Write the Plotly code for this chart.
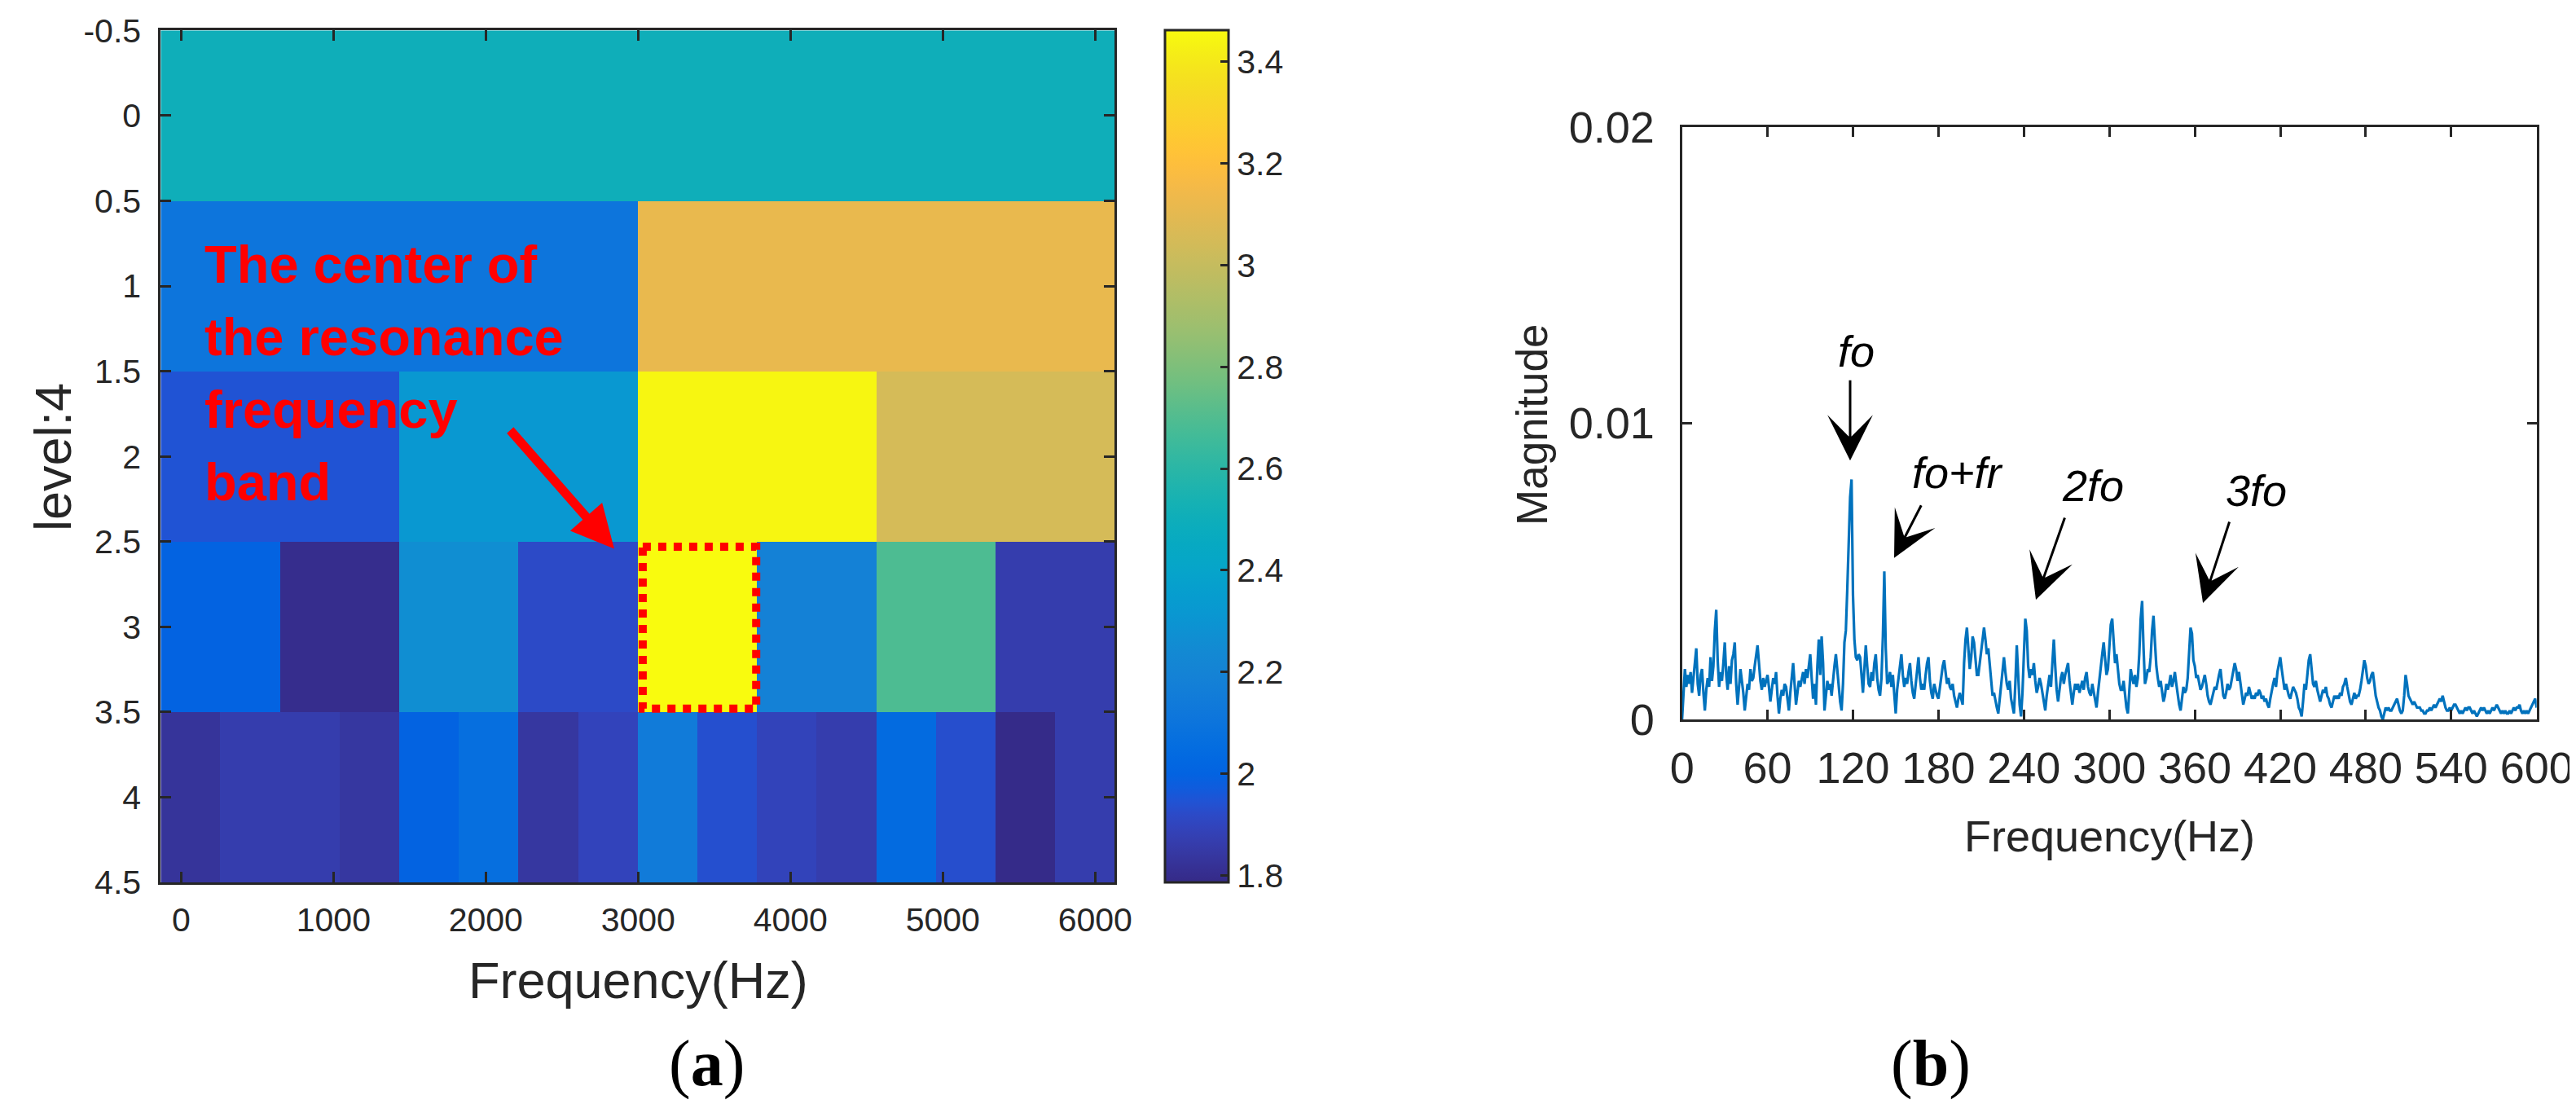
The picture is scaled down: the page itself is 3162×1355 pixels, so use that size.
import plotly.graph_objects as go

W, H = 3162, 1355

# ---------------- panel (a): kurtogram values ----------------
levels = [0, 1, 2, 3, 4]
level_tick_vals = [-0.5, 0, 0.5, 1, 1.5, 2, 2.5, 3, 3.5, 4, 4.5]
level_tick_text = ["-0.5", "0", "0.5", "1", "1.5", "2", "2.5", "3", "3.5", "4", "4.5"]
kurt_level0 = [2.504]
kurt_level1 = [2.105, 3.116]
kurt_level2 = [1.946, 2.318, 3.445, 3.050]
kurt_level3 = [1.999, 1.800, 2.265, 1.919, 3.462, 2.185, 2.691, 1.866]
kurt_level4 = [1.826, 1.866, 1.866, 1.839, 1.999, 2.066, 1.839, 1.894,
               2.145, 1.935, 1.892, 1.866, 2.040, 1.932, 1.790, 1.866]
freq_extent_a = [-134, 6127]
freq_ticks_a = [0, 1000, 2000, 3000, 4000, 5000, 6000]
cbar_range = [1.786, 3.4625]
cbar_ticks = [1.8, 2.0, 2.2, 2.4, 2.6, 2.8, 3.0, 3.2, 3.4]
cbar_text = ["1.8", "2", "2.2", "2.4", "2.6", "2.8", "3", "3.2", "3.4"]

# ---------------- panel (b): envelope spectrum values ----------------
spec_f0, spec_df = 0, 1          # Hz
mag_e4 = [  # magnitude in units of 1e-4, one value per Hz (0..600 Hz)
    0, 9, 17, 11, 15, 12, 16, 9, 14, 19,
    24, 12, 8, 15, 17, 9, 3, 10, 14, 11,
    21, 13, 18, 30, 37, 20, 11, 16, 13, 19,
    26, 15, 10, 18, 12, 20, 22, 26, 12, 5,
    11, 17, 13, 9, 3, 8, 12, 10, 17, 13,
    14, 18, 21, 25, 19, 13, 10, 14, 11, 13,
    15, 11, 6, 10, 14, 12, 16, 8, 2, 7,
    10, 8, 12, 11, 7, 3, 9, 14, 19, 12,
    5, 9, 13, 11, 14, 16, 12, 17, 14, 19,
    22, 14, 7, 12, 5, 18, 27, 15, 28, 19,
    3, 8, 13, 10, 12, 8, 14, 18, 22, 16,
    10, 6, 3, 12, 26, 30, 44, 60, 75, 81,
    42, 27, 21, 20, 22, 21, 14, 9, 17, 25,
    18, 12, 11, 16, 13, 19, 22, 14, 10, 8,
    14, 28, 50, 24, 12, 13, 16, 11, 15, 9,
    2, 10, 14, 18, 22, 15, 11, 14, 12, 16,
    19, 13, 9, 7, 12, 17, 21, 14, 10, 12,
    10, 15, 19, 21, 13, 9, 7, 12, 10, 8,
    7, 11, 15, 18, 20, 15, 12, 14, 11, 10,
    12, 8, 6, 4, 7, 9, 7, 5, 19, 27,
    31, 22, 17, 21, 28, 26, 19, 15, 15, 19,
    24, 28, 31, 27, 22, 24, 18, 12, 8, 9,
    6, 4, 2, 7, 13, 18, 21, 16, 12, 10,
    13, 7, 4, 2, 12, 25, 15, 5, 1, 9,
    22, 34, 30, 18, 14, 17, 15, 19, 13, 9,
    11, 14, 12, 9, 6, 3, 8, 12, 15, 11,
    20, 27, 18, 10, 6, 11, 14, 16, 12, 15,
    17, 19, 13, 8, 5, 9, 12, 10, 12, 9,
    11, 13, 10, 14, 16, 11, 9, 8, 12, 9,
    6, 4, 9, 14, 18, 22, 26, 19, 15, 17,
    24, 32, 34, 25, 19, 22, 16, 12, 10, 10,
    13, 8, 4, 2, 9, 17, 14, 12, 15, 11,
    14, 22, 34, 40, 24, 12, 14, 17, 16, 21,
    30, 35, 26, 18, 14, 11, 13, 9, 6, 8,
    12, 10, 12, 15, 11, 13, 16, 12, 8, 5,
    3, 7, 11, 9, 10, 14, 22, 31, 29, 20,
    18, 14, 15, 12, 10, 11, 13, 15, 12, 8,
    6, 5, 7, 9, 11, 10, 13, 15, 17, 12,
    8, 7, 9, 12, 10, 11, 14, 16, 19, 17,
    13, 16, 12, 8, 5, 7, 9, 8, 11, 9,
    7, 8, 7, 9, 8, 10, 9, 7, 8, 6,
    7, 5, 4, 7, 10, 12, 14, 11, 16, 19,
    21, 17, 13, 10, 12, 10, 8, 7, 9, 11,
    10, 9, 7, 4, 3, 1, 6, 12, 10, 15,
    20, 22, 16, 12, 11, 13, 10, 8, 6, 8,
    10, 9, 11, 8, 7, 5, 4, 6, 8, 7,
    8, 7, 9, 8, 11, 12, 14, 11, 8, 6,
    5, 7, 9, 7, 8, 8, 10, 13, 17, 20,
    18, 14, 12, 13, 15, 16, 12, 8, 6, 4,
    3, 1, 0, 2, 4, 3, 4, 3, 3, 4,
    5, 6, 7, 5, 3, 2, 3, 8, 15, 12,
    8, 7, 6, 5, 6, 5, 4, 4, 4, 3,
    3, 2, 2, 3, 3, 4, 3, 4, 5, 4,
    5, 6, 7, 6, 8, 6, 4, 3, 3, 4,
    3, 4, 5, 5, 4, 3, 2, 3, 2, 3,
    4, 3, 4, 4, 3, 2, 3, 2, 1, 2,
    3, 4, 3, 4, 3, 2, 3, 2, 3, 4,
    3, 4, 5, 4, 3, 2, 3, 2, 3, 2,
    2, 3, 2, 3, 4, 3, 4, 4, 5, 3,
    2, 3, 2, 3, 2, 3, 4, 5, 6, 7,
    4,
]
freq_ticks_b = [0, 60, 120, 180, 240, 300, 360, 420, 480, 540, 600]
mag_ticks = [0, 0.01, 0.02]
mag_tick_text = ["0", "0.01", "0.02"]
peak_labels = ["fo", "fo+fr", "2fo", "3fo"]

# ---------------- parula colormap (64 entries) ----------------
parula = [
    (0.2081, 0.1663, 0.5292), (0.2116, 0.1898, 0.5777), (0.2123, 0.2138, 0.6270), (0.2081, 0.2386, 0.6771),
    (0.1959, 0.2645, 0.7279), (0.1707, 0.2919, 0.7792), (0.1253, 0.3242, 0.8303), (0.0591, 0.3598, 0.8683),
    (0.0117, 0.3875, 0.8820), (0.0060, 0.4086, 0.8828), (0.0165, 0.4266, 0.8786), (0.0329, 0.4430, 0.8720),
    (0.0498, 0.4586, 0.8641), (0.0629, 0.4737, 0.8554), (0.0723, 0.4887, 0.8467), (0.0779, 0.5040, 0.8384),
    (0.0793, 0.5200, 0.8312), (0.0749, 0.5375, 0.8263), (0.0641, 0.5570, 0.8240), (0.0488, 0.5772, 0.8228),
    (0.0343, 0.5966, 0.8199), (0.0265, 0.6137, 0.8135), (0.0239, 0.6287, 0.8038), (0.0231, 0.6418, 0.7913),
    (0.0228, 0.6535, 0.7768), (0.0267, 0.6642, 0.7607), (0.0384, 0.6743, 0.7436), (0.0590, 0.6838, 0.7254),
    (0.0843, 0.6928, 0.7062), (0.1133, 0.7015, 0.6859), (0.1453, 0.7098, 0.6646), (0.1801, 0.7177, 0.6424),
    (0.2178, 0.7250, 0.6193), (0.2586, 0.7317, 0.5954), (0.3022, 0.7376, 0.5712), (0.3482, 0.7424, 0.5473),
    (0.3953, 0.7459, 0.5244), (0.4420, 0.7481, 0.5033), (0.4871, 0.7491, 0.4840), (0.5300, 0.7491, 0.4661),
    (0.5709, 0.7485, 0.4494), (0.6099, 0.7473, 0.4337), (0.6473, 0.7456, 0.4188), (0.6834, 0.7435, 0.4044),
    (0.7184, 0.7411, 0.3905), (0.7525, 0.7384, 0.3768), (0.7858, 0.7356, 0.3633), (0.8185, 0.7327, 0.3498),
    (0.8507, 0.7299, 0.3360), (0.8824, 0.7274, 0.3217), (0.9139, 0.7258, 0.3063), (0.9450, 0.7261, 0.2886),
    (0.9739, 0.7314, 0.2666), (0.9938, 0.7455, 0.2403), (0.9990, 0.7653, 0.2164), (0.9955, 0.7861, 0.1967),
    (0.9880, 0.8066, 0.1794), (0.9789, 0.8271, 0.1633), (0.9697, 0.8481, 0.1475), (0.9626, 0.8705, 0.1309),
    (0.9589, 0.8949, 0.1132), (0.9598, 0.9218, 0.0948), (0.9661, 0.9514, 0.0755), (0.9763, 0.9831, 0.0538),
]
parula_scale = [[i / (len(parula) - 1),
                 "rgb(%d,%d,%d)" % (round(r * 255), round(g * 255), round(b * 255))]
                for i, (r, g, b) in enumerate(parula)]

# ---------------- build heatmap grid ----------------
rows = [kurt_level0, kurt_level1, kurt_level2, kurt_level3, kurt_level4]
n_fine = len(kurt_level4)
z = [[v for v in row for _ in range(n_fine // len(row))] for row in rows]
step = (freq_extent_a[1] - freq_extent_a[0]) / n_fine
x_edges = [freq_extent_a[0] + i * step for i in range(n_fine + 1)]
y_edges = [lv - 0.5 for lv in levels] + [levels[-1] + 0.5]

spec_freq = [spec_f0 + i * spec_df for i in range(len(mag_e4))]
spec_mag = [v * 1e-4 for v in mag_e4]

AX = "#262626"
FONT = "Liberation Sans"


def px(x):
    return x / W


def py(y):
    return 1 - y / H


fig = go.Figure()
fig.add_trace(go.Heatmap(
    x=x_edges, y=y_edges, z=z, colorscale=parula_scale,
    zmin=cbar_range[0], zmax=cbar_range[1], xaxis="x", yaxis="y",
    hoverinfo="skip",
    colorbar=dict(
        x=px(1422), xanchor="left", xref="paper",
        y=py(1075), yanchor="bottom", yref="paper",
        len=(1075 - 29.3) / H, lenmode="fraction",
        thickness=78, thicknessmode="pixels", xpad=0, ypad=0,
        outlinewidth=3, outlinecolor=AX,
        tickmode="array", tickvals=cbar_ticks, ticktext=cbar_text,
        ticks="inside", ticklen=11, tickwidth=3, tickcolor=AX,
        tickfont=dict(family=FONT, size=41, color=AX),
    ),
))
fig.add_trace(go.Scatter(
    x=spec_freq, y=spec_mag, mode="lines", xaxis="x2", yaxis="y2",
    line=dict(color="#0072BD", width=3.2), hoverinfo="skip",
))

common = dict(showline=True, linewidth=3, linecolor=AX, mirror="ticks",
              ticks="inside", tickwidth=3, tickcolor=AX, showgrid=False,
              zeroline=False, automargin=False)

fig.update_layout(
    width=W, height=H, autosize=False,
    margin=dict(l=0, r=0, t=0, b=0, autoexpand=False),
    paper_bgcolor="white", plot_bgcolor="white", showlegend=False,
    xaxis=dict(domain=[px(189.3), px(1360)], range=freq_extent_a, anchor="y",
               tickmode="array", tickvals=freq_ticks_a, ticklen=13, ticklabelstandoff=8,
               tickfont=dict(family=FONT, size=41, color=AX), **common),
    yaxis=dict(domain=[py(1075), py(29.3)], range=[4.5, -0.5], anchor="x",
               tickmode="array", tickvals=level_tick_vals, ticktext=level_tick_text,
               ticklen=13, ticklabelstandoff=13,
               tickfont=dict(family=FONT, size=41, color=AX), **common),
    xaxis2=dict(domain=[px(2056.7), px(3105.7)], range=[0, 600], anchor="y2",
                tickmode="array", tickvals=freq_ticks_b, ticklen=12, ticklabelstandoff=10,
                tickfont=dict(family=FONT, size=54, color=AX), **common),
    yaxis2=dict(domain=[py(875), py(147.7)], range=[0, 0.02], anchor="x2",
                tickmode="array", tickvals=mag_ticks, ticktext=mag_tick_text,
                ticklen=12, ticklabelstandoff=20,
                tickfont=dict(family=FONT, size=54, color=AX), **common),
)


def label(text, x, y, size, color=AX, family=FONT, angle=0, xanchor="center"):
    return dict(text=text, x=px(x), y=py(y), xref="paper", yref="paper",
                xanchor=xanchor, yanchor="middle", textangle=angle,
                showarrow=False, font=dict(family=family, size=size, color=color))


ann = []
# axis titles
ann.append(label("Frequency(Hz)", 775.5, 1195, 63))
ann.append(label("level:4", 57, 553, 63, angle=-90))
ann.append(label("Frequency(Hz)", 2581, 1018, 54))
ann.append(label("Magnitude", 1872, 513, 53, angle=-90))
# panel letters
ann.append(label("(<b>a</b>)", 859, 1297, 80, color="black", family="Liberation Serif"))
ann.append(label("(<b>b</b>)", 2362, 1297, 80, color="black", family="Liberation Serif"))
# red annotation text
red_lines = ["The center of", "the resonance", "frequency", "band"]
red_base = [339, 428, 517, 606]
for t, b in zip(red_lines, red_base):
    ann.append(label("<b>%s</b>" % t, 241, b - 22.5, 65, color="#FF0000", xanchor="left"))
# red arrow
ann.append(dict(text="", x=2843, y=2.542, xref="x", yref="y", ax=-129, ay=-147,
                showarrow=True, arrowhead=2, arrowsize=0.95, arrowwidth=11,
                arrowcolor="#FF0000"))
# peak labels and arrows on panel (b)
label_px = [(2270, 423), (2395, 572), (2561, 588), (2761, 594)]
for t, (lx, ly) in zip(peak_labels, label_px):
    ann.append(label("<i>%s</i>" % t, lx, ly, 54, color="black"))
arrow_tips = [(118.0, 0.00874), (148.9, 0.00545), (248.4, 0.00404), (365.7, 0.00393)]
arrow_tails = [(0, -100), (34, -66), (36, -102), (33, -101)]
for (tx, ty), (dx, dy) in zip(arrow_tips, arrow_tails):
    ann.append(dict(text="", x=tx, y=ty, xref="x2", yref="y2", ax=dx, ay=dy,
                    showarrow=True, arrowhead=3, arrowsize=3.1, arrowwidth=3,
                    arrowcolor="black"))
fig.update_layout(annotations=ann)

# dotted red box around the resonance band
fig.add_shape(type="rect", xref="x", yref="y", x0=3030, x1=3775, y0=2.53, y1=3.48,
              line=dict(color="#FF0000", width=10, dash="10px,9px"))

fig.write_html("out.html")
